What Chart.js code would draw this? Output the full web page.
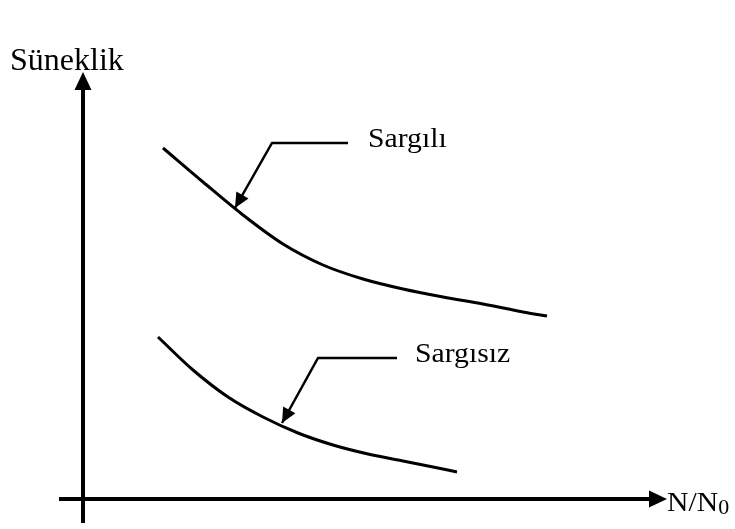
<!DOCTYPE html>
<html>
<head>
<meta charset="utf-8">
<script src="https://cdn.jsdelivr.net/npm/chart.js@4"></script>
<style>
  body { margin: 0; background: #fff; }
  #c { display: block; }
</style>
</head>
<body>
<canvas id="c" width="735" height="529"></canvas>
<script>
// curve data (x = N/N0, y = Süneklik, arbitrary units)
const sargiliX = [0.80, 1.20, 1.60, 2.00, 2.40, 2.80, 3.20, 3.60, 4.00, 4.40, 4.64];
const sargiliY = [3.51, 3.17, 2.84, 2.55, 2.34, 2.20, 2.10, 2.02, 1.95, 1.87, 1.83];
const sargisizX = [0.75, 1.10, 1.45, 1.80, 2.15, 2.50, 2.85, 3.20, 3.50, 3.74];
const sargisizY = [1.62, 1.29, 1.02, 0.82, 0.66, 0.54, 0.45, 0.38, 0.32, 0.27];

// leader lines to the labels (last point = arrow tip)
const leader1X = [2.65, 1.89, 1.52];
const leader1Y = [3.56, 3.56, 2.91];
const leader2X = [3.14, 2.35, 1.99];
const leader2Y = [1.41, 1.41, 0.76];

// axes extent
const axisXRange = [-0.24, 5.84];
const axisYRange = [-0.24, 4.27];

const labels = ['Süneklik', 'Sargılı', 'Sargısız', 'N/N'];
const labelX = [-0.73, 2.85, 3.32, 5.84];
const labelY = [4.29, 3.52, 1.37, -0.12];

function pts(xs, ys) { return xs.map((x, i) => ({ x: x, y: ys[i] })); }

function arrowHead(ctx, x1, y1, x2, y2, len, half) {
  const a = Math.atan2(y2 - y1, x2 - x1);
  ctx.beginPath();
  ctx.moveTo(x2, y2);
  ctx.lineTo(x2 - len * Math.cos(a) + half * Math.sin(a), y2 - len * Math.sin(a) - half * Math.cos(a));
  ctx.lineTo(x2 - len * Math.cos(a) - half * Math.sin(a), y2 - len * Math.sin(a) + half * Math.cos(a));
  ctx.closePath();
  ctx.fill();
}

const sketchPlugin = {
  id: 'sketch',
  afterDatasetsDraw(chart) {
    const ctx = chart.ctx;
    const xs = chart.scales.x, ys = chart.scales.y;
    const px = v => xs.getPixelForValue(v);
    const py = v => ys.getPixelForValue(v);
    ctx.save();
    ctx.strokeStyle = '#000';
    ctx.fillStyle = '#000';

    // axes
    ctx.lineWidth = 4;
    const ox = px(0), oy = py(0);
    const xEnd = px(axisXRange[1]), yEnd = py(axisYRange[1]);
    ctx.beginPath();
    ctx.moveTo(px(axisXRange[0]), oy);
    ctx.lineTo(xEnd - 12, oy);
    ctx.moveTo(ox, py(axisYRange[0]));
    ctx.lineTo(ox, yEnd + 12);
    ctx.stroke();
    arrowHead(ctx, ox, oy, xEnd, oy, 18, 8.5);
    arrowHead(ctx, ox, oy, ox, yEnd, 18, 8.5);

    // leader arrow heads
    [[leader1X, leader1Y], [leader2X, leader2Y]].forEach(([lx, ly]) => {
      arrowHead(ctx, px(lx[1]), py(ly[1]), px(lx[2]), py(ly[2]), 15, 7);
    });

    // texts
    ctx.textBaseline = 'alphabetic';
    ctx.textAlign = 'left';
    ctx.font = '32px "Liberation Serif", serif';
    ctx.fillText(labels[0], px(labelX[0]), py(labelY[0]));

    const stretch = 1.1;
    ctx.font = '27px "Liberation Serif", serif';
    for (let i = 1; i < labels.length; i++) {
      ctx.save();
      ctx.translate(px(labelX[i]), py(labelY[i]));
      ctx.scale(stretch, 1);
      ctx.fillText(labels[i], 0, 0);
      if (i === 3) {
        const w = ctx.measureText(labels[i]).width;
        ctx.font = '20px "Liberation Serif", serif';
        ctx.fillText('0', w, 3);
        ctx.font = '27px "Liberation Serif", serif';
      }
      ctx.restore();
    }
    ctx.restore();
  }
};

const curveStyle = {
  borderColor: '#000',
  borderWidth: 3,
  pointRadius: 0,
  fill: false,
  cubicInterpolationMode: 'monotone'
};
const leaderStyle = {
  borderColor: '#000',
  borderWidth: 2.5,
  pointRadius: 0,
  fill: false,
  tension: 0
};

new Chart(document.getElementById('c'), {
  type: 'scatter',
  data: {
    datasets: [
      { label: 'Sargılı', data: pts(sargiliX, sargiliY), showLine: true, ...curveStyle },
      { label: 'Sargısız', data: pts(sargisizX, sargisizY), showLine: true, ...curveStyle },
      { label: 'l1', data: pts(leader1X, leader1Y), showLine: true, ...leaderStyle },
      { label: 'l2', data: pts(leader2X, leader2Y), showLine: true, ...leaderStyle }
    ]
  },
  options: {
    responsive: false,
    animation: false,
    layout: { padding: 0 },
    scales: {
      x: { type: 'linear', display: false, min: -0.83, max: 6.52 },
      y: { type: 'linear', display: false, min: -0.30, max: 4.99 }
    },
    plugins: {
      legend: { display: false },
      tooltip: { enabled: false }
    }
  },
  plugins: [sketchPlugin]
});
</script>
</body>
</html>
